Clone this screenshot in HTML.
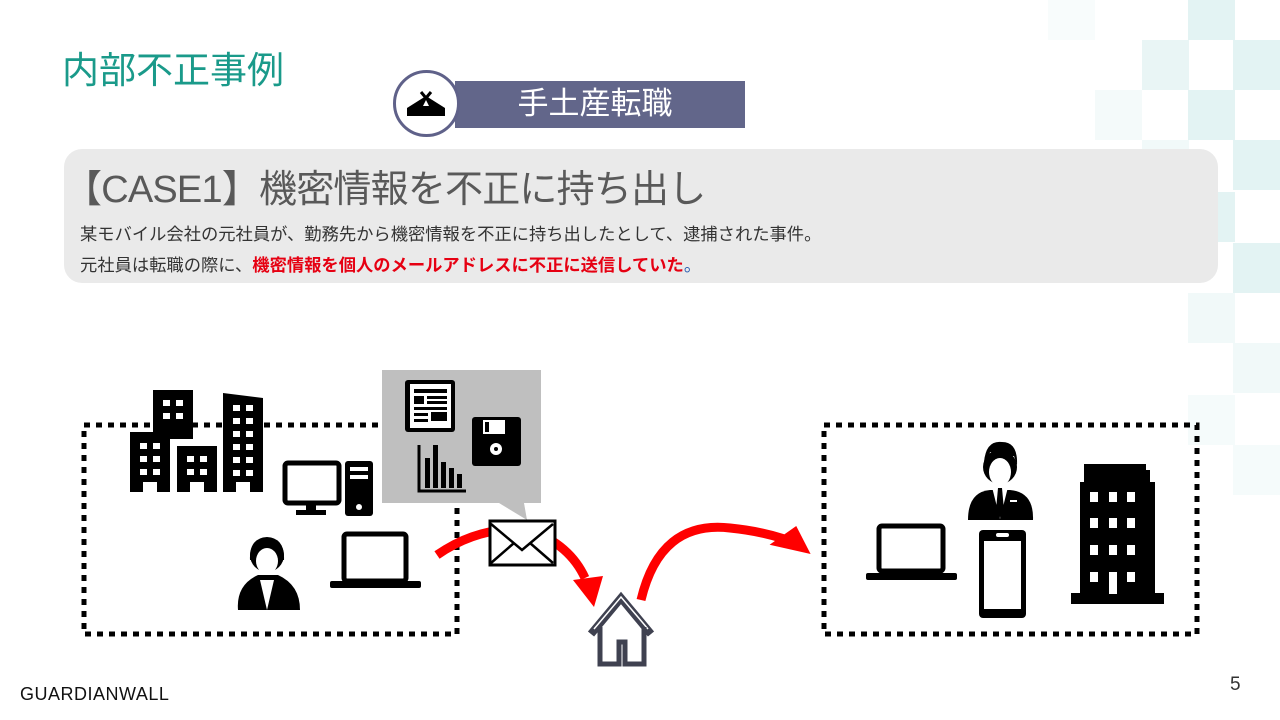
<!DOCTYPE html>
<html><head><meta charset="utf-8"><style>
*{margin:0;padding:0;box-sizing:border-box}
body{width:1280px;height:720px;position:relative;background:#fff;overflow:hidden;font-family:"Liberation Sans","Noto Sans CJK JP",sans-serif}
.a{position:absolute}
.sq{position:absolute;width:47px;height:50px;background:#e3f3f3}
</style></head><body>
<div class="sq" style="left:1188px;top:0;height:40px"></div>
<div class="sq" style="left:1142px;top:40px;opacity:.8"></div>
<div class="sq" style="left:1233px;top:40px"></div>
<div class="sq" style="left:1095px;top:90px;opacity:.4"></div>
<div class="sq" style="left:1188px;top:90px"></div>
<div class="sq" style="left:1142px;top:140px;opacity:.5"></div>
<div class="sq" style="left:1233px;top:140px"></div>
<div class="sq" style="left:1188px;top:192px"></div>
<div class="sq" style="left:1233px;top:243px"></div>
<div class="sq" style="left:1188px;top:293px;opacity:.5"></div>
<div class="sq" style="left:1233px;top:343px;opacity:.5"></div>
<div class="sq" style="left:1188px;top:395px;opacity:.35"></div>
<div class="sq" style="left:1233px;top:445px;opacity:.35"></div>
<div class="sq" style="left:1048px;top:0;opacity:.25;height:40px"></div>

<div class="a" style="left:62px;top:40px;font-size:37px;color:#1a9a8a">内部不正事例</div>

<div class="a" style="left:455px;top:81px;width:290px;height:47px;background:#62668a"></div>
<div class="a" style="left:455px;top:82px;width:280px;text-align:center;color:#fff;font-size:31px;line-height:44px">手土産転職</div>
<div class="a" style="left:393px;top:70px;width:67px;height:67px;border-radius:50%;background:#fff;border:3px solid #5f6189"></div>
<svg class="a" style="left:393px;top:70px" width="67" height="67"><path d="M14 38 L33 26 L52 38 L52 46 L14 46Z" fill="#000"/><path d="M28 22 L38 34 M38 22 L28 34" stroke="#000" stroke-width="3"/><path d="M30 36 L33 30 L36 36Z" fill="#fff"/></svg>

<div class="a" style="left:64px;top:149px;width:1154px;height:134px;border-radius:18px;background:#eaeaea"></div>
<div class="a" style="left:64px;top:164px;font-size:38px;color:#595959;line-height:52px;letter-spacing:-0.8px">【CASE1】機密情報を不正に持ち出し</div>
<div class="a" style="left:80px;top:222px;font-size:17.3px;color:#333;line-height:24px">某モバイル会社の元社員が、勤務先から機密情報を不正に持ち出したとして、逮捕された事件。</div>
<div class="a" style="left:80px;top:253px;font-size:17.3px;color:#333;line-height:24px">元社員は転職の際に、<b style="color:#e60012">機密情報を個人のメールアドレスに不正に送信していた</b><span style="color:#2a5db0">。</span></div>

<svg class="a" style="left:0;top:0" width="1280" height="720">
<rect x="84" y="425" width="373" height="209" fill="none" stroke="#000" stroke-width="5" stroke-dasharray="6 6"/>
<rect x="824" y="425" width="373" height="209" fill="none" stroke="#000" stroke-width="5" stroke-dasharray="6 6"/>
<g fill="#000">
<rect x="153" y="390" width="40" height="49"/><rect x="130" y="432" width="40" height="60"/><rect x="177" y="446" width="40" height="46"/><path d="M223 393 L263 398 L263 492 L223 492Z"/>
</g>
<g fill="#fff">
<rect x="163" y="400" width="7" height="6"/><rect x="176" y="400" width="7" height="6"/><rect x="163" y="413" width="7" height="6"/><rect x="176" y="413" width="7" height="6"/>
<rect x="140" y="443" width="7" height="6"/><rect x="153" y="443" width="7" height="6"/><rect x="140" y="456" width="7" height="6"/><rect x="153" y="456" width="7" height="6"/><rect x="140" y="469" width="7" height="6"/><rect x="153" y="469" width="7" height="6"/>
<rect x="187" y="456" width="7" height="6"/><rect x="200" y="456" width="7" height="6"/><rect x="187" y="469" width="7" height="6"/><rect x="200" y="469" width="7" height="6"/>
<rect x="233" y="405" width="7" height="6"/><rect x="246" y="405" width="7" height="6"/><rect x="233" y="418" width="7" height="6"/><rect x="246" y="418" width="7" height="6"/><rect x="233" y="431" width="7" height="6"/><rect x="246" y="431" width="7" height="6"/><rect x="233" y="444" width="7" height="6"/><rect x="246" y="444" width="7" height="6"/><rect x="233" y="457" width="7" height="6"/><rect x="246" y="457" width="7" height="6"/><rect x="233" y="470" width="7" height="6"/><rect x="246" y="470" width="7" height="6"/>
<rect x="143" y="482" width="14" height="10"/><rect x="190" y="482" width="14" height="10"/><rect x="236" y="482" width="14" height="10"/>
</g>
<rect x="285" y="463" width="54" height="40" rx="3" fill="none" stroke="#000" stroke-width="5"/><rect x="306" y="503" width="10" height="8"/><rect x="296" y="510" width="30" height="5"/>
<rect x="345" y="461" width="28" height="55" rx="3"/><rect x="350" y="467" width="18" height="4" fill="#fff"/><rect x="350" y="475" width="18" height="4" fill="#fff"/><circle cx="359" cy="507" r="3" fill="#fff"/>
<path d="M238 610 Q236 585 258 575 L278 575 Q300 585 300 610Z"/><circle cx="267" cy="555" r="17"/><path d="M250 560 Q249 538 267 537 Q285 538 284 560Z"/><ellipse cx="267" cy="561" rx="11" ry="13" fill="#fff"/><path d="M256 552 Q267 540 278 552 L278 545 Q267 535 256 545Z"/><path d="M260 580 L267 610 L274 580Z" fill="#fff"/>
<rect x="344" y="534" width="62" height="47" rx="3" fill="none" stroke="#000" stroke-width="5"/><rect x="330" y="581" width="91" height="7" rx="2"/>
<path d="M382 370 H541 V503 H524 L527 520 L499 503 H382Z" fill="#bfbfbf"/>
<rect x="405" y="380" width="50" height="52" rx="3" fill="#000"/><rect x="410" y="384" width="41" height="44" fill="#fff"/><rect x="414" y="389" width="33" height="4"/><rect x="414" y="396" width="10" height="8"/><rect x="427" y="396" width="20" height="3"/><rect x="427" y="401" width="20" height="3"/><rect x="414" y="407" width="33" height="3"/><rect x="414" y="413" width="14" height="3"/><rect x="431" y="412" width="16" height="9"/><rect x="414" y="419" width="14" height="3"/>
<rect x="472" y="417" width="49" height="49" rx="3"/><rect x="483" y="420" width="22" height="14" fill="#fff"/><rect x="485" y="422" width="4" height="10"/><circle cx="496" cy="449" r="6" fill="#fff"/><circle cx="496" cy="449" r="2"/>
<path d="M419 445 V491 H466" fill="none" stroke="#000" stroke-width="3"/><rect x="425" y="458" width="5" height="30"/><rect x="433" y="445" width="5" height="43"/><rect x="441" y="462" width="5" height="26"/><rect x="449" y="468" width="5" height="20"/><rect x="457" y="474" width="5" height="14"/>
<path d="M437 555 Q480 525 530 530 Q570 545 585 578" fill="none" stroke="#f00" stroke-width="9"/>
<path d="M573 580 L603 576 L594 607Z" fill="#f00"/>
<path d="M641 600 Q660 520 730 528 Q770 532 800 545" fill="none" stroke="#f00" stroke-width="9"/>
<path d="M793 527 L770 550 L812 552Z" fill="#f00" transform="rotate(10 800 545)"/>
<rect x="490" y="521" width="65" height="44" fill="#fff" stroke="#000" stroke-width="3"/><path d="M491 524 L522 550 L553 524 M491 563 L514 543 M553 563 L530 543" fill="none" stroke="#000" stroke-width="2.5"/>
<path d="M591 634 L621 598 L651 634" fill="none" stroke="#3f4150" stroke-width="8" stroke-linejoin="miter"/><path d="M594 629 L621 597 L648 629" fill="none" stroke="#fff" stroke-width="1.5"/>
<path d="M600 627 V664 H619 V642 H625 V664 H644 V627" fill="none" stroke="#3f4150" stroke-width="5"/>
<rect x="879" y="526" width="64" height="45" rx="3" fill="none" stroke="#000" stroke-width="5"/><rect x="866" y="573" width="91" height="7" rx="2"/>
<path d="M968 520 Q968 492 990 490 L1010 490 Q1034 492 1033 520Z"/><circle cx="1000" cy="467" r="17"/><ellipse cx="1000" cy="472" rx="11" ry="14" fill="#fff"/><path d="M984 462 Q986 440 1002 442 Q1018 442 1017 465 L1014 456 Q1000 456 990 452 L988 463Z"/><path d="M992 487 L1000 519 L1008 487Z" fill="#fff"/><path d="M998 488 L1002 488 L1004 510 L1000 518 L996 510Z"/><rect x="1010" y="500" width="7" height="2" fill="#fff"/>
<rect x="979" y="530" width="47" height="88" rx="4"/><rect x="984" y="541" width="37" height="68" fill="#fff"/><rect x="996" y="533" width="13" height="4" rx="2" fill="#fff"/>
<path d="M1084 464 H1146 V470 H1150 V482 H1155 V593 H1164 V604 H1071 V593 H1080 V482 H1084Z"/>
<g fill="#fff"><rect x="1090" y="492" width="8" height="10"/><rect x="1109" y="492" width="8" height="10"/><rect x="1127" y="492" width="8" height="10"/><rect x="1090" y="518" width="8" height="10"/><rect x="1109" y="518" width="8" height="10"/><rect x="1127" y="518" width="8" height="10"/><rect x="1090" y="545" width="8" height="10"/><rect x="1109" y="545" width="8" height="10"/><rect x="1127" y="545" width="8" height="10"/><rect x="1090" y="572" width="8" height="10"/><rect x="1109" y="572" width="8" height="22"/><rect x="1127" y="572" width="8" height="10"/></g>
</svg>

<div class="a" style="left:20px;top:684px;font-size:18px;letter-spacing:0.5px;color:#111">GUARDIANWALL</div>
<div class="a" style="left:1230px;top:674px;font-size:19px;color:#333">5</div>
</body></html>
